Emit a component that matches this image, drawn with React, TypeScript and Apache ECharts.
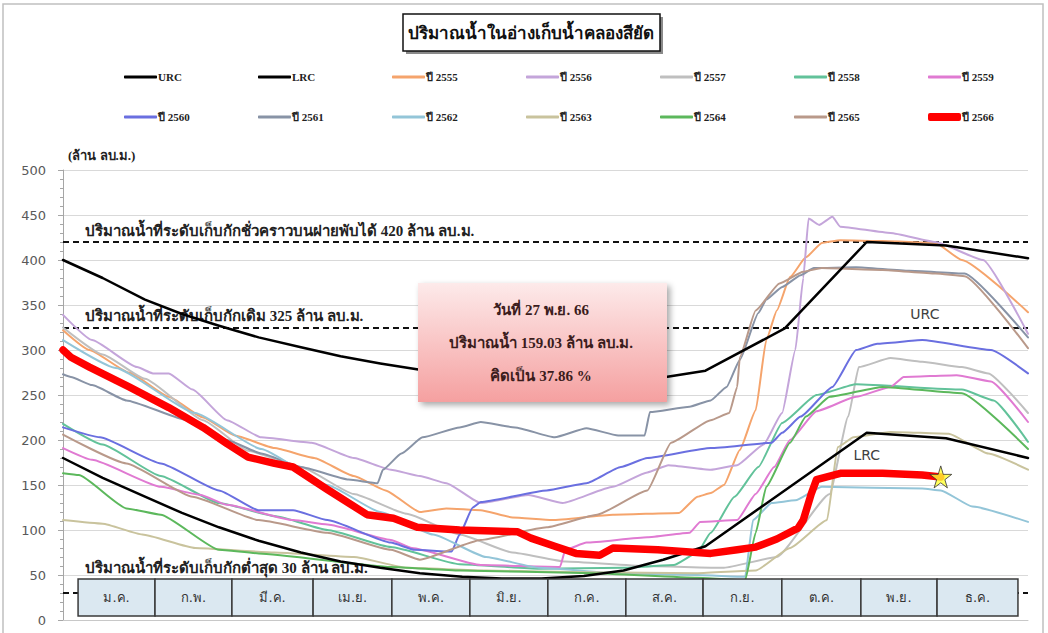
import React, { useEffect, useRef } from "react";
import * as echarts from "echarts";

// ---------- data (day of year, million m3) ----------
const urc = [[0,400],[15,380],[31,356],[45,340],[59,327],[74,314],[90,303],[105,293],[120,285],[135,278],[151,274],[181,270],[212,268],[228,270],[243,277],[273,324],[304,420],[334,416],[365,402]];
const lrc = [[0,180],[15,158],[31,137],[45,119],[59,103],[74,88],[90,75],[105,65],[120,58],[135,52],[151,48],[166,46],[181,46],[197,49],[212,55],[227,67],[243,82],[304,208],[334,202],[365,180]];
const y2555 = [[0,322],[10,300],[25,275],[40,248],[53,225],[65,205],[80,191],[95,180],[110,160],[122,144],[135,120],[145,124],[158,122],[170,114],[185,111],[208,117],[233,119],[240,137],[245,141],[250,150],[256,189],[262,233],[266,311],[270,344],[275,381],[281,403],[287,419],[294,422],[310,421],[330,419],[340,400],[365,342]];
const y2556 = [[0,339],[11,311],[28,281],[34,274],[40,274],[49,256],[62,222],[75,203],[94,197],[110,180],[124,167],[135,160],[145,152],[158,130],[176,139],[189,130],[208,148],[221,164],[229,172],[245,167],[255,172],[265,195],[272,230],[277,300],[280,380],[282,446],[286,439],[291,448],[294,437],[313,430],[330,420],[348,400],[365,318]];
const y2557 = [[0,325],[15,295],[31,268],[53,222],[70,188],[90,170],[110,140],[130,118],[150,95],[170,75],[190,65],[220,60],[250,58],[270,70],[290,140],[297,226],[301,281],[313,291],[325,287],[340,281],[350,274],[365,230]];
const y2558 = [[0,218],[15,195],[37,160],[59,130],[81,115],[100,100],[124,81],[150,62],[180,57],[212,58],[231,61],[240,75],[245,97],[254,137],[263,170],[272,219],[285,250],[300,262],[340,256],[352,244],[365,198]];
const y2559 = [[0,191],[11,178],[37,148],[52,139],[62,128],[87,111],[100,106],[124,89],[132,80],[158,61],[188,59],[190,78],[198,86],[221,92],[237,97],[241,109],[255,111],[262,140],[269,170],[275,200],[285,232],[300,248],[313,259],[318,270],[338,272],[351,265],[365,220]];
const y2560 = [[0,214],[14,203],[37,174],[59,144],[74,122],[87,122],[100,111],[124,86],[133,78],[147,76],[150,95],[155,125],[158,131],[183,144],[198,152],[211,170],[221,180],[245,191],[268,197],[272,208],[279,226],[291,259],[300,300],[308,307],[325,311],[351,300],[365,274]];
const y2561 = [[0,273],[3,270],[11,261],[24,244],[47,222],[62,200],[75,185],[90,170],[108,156],[119,152],[121,167],[128,185],[136,203],[150,214],[158,220],[171,214],[186,203],[198,213],[210,205],[220,205],[222,231],[237,237],[245,244],[251,259],[256,289],[263,341],[266,356],[272,370],[279,383],[284,391],[300,392],[320,388],[341,385],[365,314]];
const y2562 = [[0,311],[20,280],[50,230],[75,190],[100,150],[120,120],[140,95],[160,70],[180,58],[210,52],[240,50],[258,48],[261,111],[268,130],[277,133],[287,148],[325,146],[332,144],[344,126],[365,109]];
const y2563 = [[0,111],[15,107],[30,95],[50,80],[80,75],[110,70],[130,58],[160,55],[200,53],[240,52],[262,55],[275,80],[289,111],[293,192],[299,203],[313,209],[335,207],[350,185],[365,167]];
const y2564 = [[0,163],[6,161],[24,124],[37,117],[59,78],[74,74],[124,59],[150,55],[200,52],[240,47],[258,44],[262,97],[266,148],[275,197],[281,226],[290,248],[310,259],[340,252],[365,190]];
const y2565 = [[0,206],[24,174],[49,137],[74,111],[100,97],[124,78],[135,67],[158,89],[183,103],[202,117],[221,144],[230,197],[245,222],[252,230],[255,259],[256,292],[262,344],[271,374],[280,387],[287,391],[310,389],[330,385],[341,382],[365,302]];
const y2566 = [[0,300],[3,292],[10,281],[25,259],[40,236],[53,214],[62,196],[70,181],[80,174],[87,170],[100,145],[115,117],[125,113],[134,103],[150,100],[172,98],[177,91],[186,82],[194,74],[203,72],[208,80],[225,78],[245,74],[255,78],[262,81],[270,90],[278,102],[280,111],[283,140],[285,156],[294,163],[310,163],[325,161],[332,159]];
const latestPoint = [[332, 159]];

const refLevels = [420, 325, 30];
const refLabels = [
  "ปริมาณน้ำที่ระดับเก็บกักชั่วคราวบนฝายพับได้ 420 ล้าน ลบ.ม.",
  "ปริมาณน้ำที่ระดับเก็บกักเดิม 325 ล้าน ลบ.ม.",
  "ปริมาณน้ำที่ระดับเก็บกักต่ำสุด 30 ล้าน ลบ.ม.",
];
const monthLabels = ["ม.ค.","ก.พ.","มี.ค.","เม.ย.","พ.ค.","มิ.ย.","ก.ค.","ส.ค.","ก.ย.","ต.ค.","พ.ย.","ธ.ค."];
const monthBoxEdges = [5.7, 34.8, 63.9, 94.6, 124.4, 153.9, 183.4, 212.9, 242.1, 271.9, 301.8, 330.6, 361.2];
const infoLines = ["วันที่ 27 พ.ย. 66", "ปริมาณน้ำ 159.03 ล้าน ลบ.ม.", "คิดเป็น 37.86 %"];
const titleText = "ปริมาณน้ำในอ่างเก็บน้ำคลองสียัด";

const seriesDefs = [
  { name: "URC", data: urc, color: "#000000", width: 2.5 },
  { name: "LRC", data: lrc, color: "#000000", width: 2.5 },
  { name: "ปี 2555", data: y2555, color: "#f5a46c", width: 2 },
  { name: "ปี 2556", data: y2556, color: "#c4a5da", width: 2 },
  { name: "ปี 2557", data: y2557, color: "#bfbfbf", width: 2 },
  { name: "ปี 2558", data: y2558, color: "#62c29a", width: 2 },
  { name: "ปี 2559", data: y2559, color: "#e07ad2", width: 2 },
  { name: "ปี 2560", data: y2560, color: "#6a6fe0", width: 2 },
  { name: "ปี 2561", data: y2561, color: "#8893a6", width: 2 },
  { name: "ปี 2562", data: y2562, color: "#93c5d8", width: 2 },
  { name: "ปี 2563", data: y2563, color: "#c9c39d", width: 2 },
  { name: "ปี 2564", data: y2564, color: "#5cb85c", width: 2 },
  { name: "ปี 2565", data: y2565, color: "#b9998a", width: 2 },
  { name: "ปี 2566", data: y2566, color: "#ff0000", width: 7.5 },
];

const SERIF = "'Liberation Serif', 'Times New Roman', serif";
const SANS = "'DejaVu Sans', Verdana, sans-serif";

export default function App() {
  const ref = useRef<HTMLDivElement>(null);
  useEffect(() => {
    if (!ref.current) return;
    const chart = echarts.init(ref.current, undefined, { renderer: "svg" });
    const legendCols = [124, 258, 392, 526, 660, 794, 928];
    const legends = seriesDefs.map((s, i) => {
      const thick = s.name === "ปี 2566";
      return {
        data: [{ name: s.name, icon: "roundRect" }],
        left: legendCols[i % 7],
        top: i < 7 ? 70 : 110,
        padding: 0,
        itemWidth: 33,
        itemHeight: thick ? 8 : 3,
        itemGap: 0,
        selectedMode: false,
        textStyle: { fontFamily: SERIF, fontWeight: "bold", fontSize: 11, color: "#222", padding: [0, 0, 0, -4], lineHeight: 14 },
      };
    });

    const series: any[] = seriesDefs.map((s) => {
      const rule = s.name === "URC" || s.name === "LRC";
      const current = s.name === "ปี 2566";
      return {
        name: s.name,
        type: "line",
        data: s.data,
        symbol: "none",
        showSymbol: false,
        silent: true,
        smooth: rule || current ? false : 0.15,
        smoothMonotone: "x",
        z: current ? 6 : rule ? 4 : 3,
        lineStyle: { color: s.color, width: s.width, cap: "round", join: "round" },
        itemStyle: { color: s.color },
      };
    });

    // reference levels
    series[0].markLine = {
      silent: true,
      symbol: ["none", "none"],
      z: 2,
      lineStyle: { type: [6, 4], color: "#111", width: 2 },
      data: refLevels.map((v, i) => ({
        yAxis: v,
        label: {
          show: true,
          formatter: refLabels[i],
          position: "insideStartTop",
          distance: [22, i === 2 ? 18 : 4],
          fontFamily: SERIF,
          fontWeight: "bold",
          fontSize: 15,
          color: "#222",
        },
      })),
    };
    const textMark = (coord: number[], txt: string) => ({
      silent: true,
      symbol: "circle",
      symbolSize: 1,
      itemStyle: { color: "rgba(0,0,0,0)" },
      label: { show: true, position: "inside", color: "#404040", fontSize: 14, fontFamily: SANS },
      data: [{ coord, label: { formatter: txt } }],
    });
    series[0].markPoint = textMark([326, 340], "URC");
    series[1].markPoint = textMark([304, 183], "LRC");
    // month boxes
    series[1].markArea = {
      silent: true,
      z: 10,
      itemStyle: { color: "#dbe8f1", borderColor: "#3a3a3a", borderWidth: 1.5, opacity: 1 },
      label: { show: true, position: "inside", color: "#333", fontSize: 13, fontFamily: SANS },
      data: monthLabels.map((m, i) => [
        { name: m, xAxis: monthBoxEdges[i], yAxis: 4.5 },
        { xAxis: monthBoxEdges[i + 1], yAxis: 45.5 },
      ]),
    };
    series.push({
      name: "latest",
      type: "scatter",
      data: latestPoint,
      symbol: "path://M50,0 L61,35 L98,35 L68,57 L79,91 L50,70 L21,91 L32,57 L2,35 L39,35 Z",
      symbolSize: 22,
      z: 20,
      silent: true,
      itemStyle: { color: "#ffff33", borderColor: "#333", borderWidth: 1 },
    });

    chart.setOption({
      animation: false,
      backgroundColor: "#ffffff",
      legend: legends,
      grid: { left: 63, right: 20, top: 170, bottom: 13 },
      xAxis: {
        type: "value",
        min: 0,
        max: 365,
        axisLine: { show: true, lineStyle: { color: "#c8c8c8" } },
        axisTick: { show: false },
        axisLabel: { show: false },
        splitLine: { show: false },
      },
      yAxis: {
        type: "value",
        min: 0,
        max: 500,
        interval: 50,
        axisLine: { show: true, lineStyle: { color: "#a6a6a6" } },
        axisTick: { show: true, length: 5, lineStyle: { color: "#a6a6a6" } },
        minorTick: { show: true, splitNumber: 5, length: 3, lineStyle: { color: "#a6a6a6" } },
        axisLabel: { color: "#595959", fontSize: 13, fontFamily: SANS, margin: 17 },
        splitLine: { show: true, lineStyle: { color: "#d9d9d9", width: 1 } },
      },
      graphic: [
        { type: "rect", z: 0, silent: true, shape: { x: 3, y: 4, width: 1040, height: 640 }, style: { fill: "none", stroke: "#c0c0c0", lineWidth: 1.5 } },
        { type: "rect", z: 100, silent: true, shape: { x: 406, y: 17, width: 257, height: 37 }, style: { fill: "#8a8a8a" } },
        { type: "rect", z: 101, silent: true, shape: { x: 403, y: 14, width: 257, height: 37 }, style: { fill: "#ffffff", stroke: "#111", lineWidth: 1.5 } },
        { type: "text", z: 102, silent: true, x: 531, y: 33, style: { text: titleText, fill: "#111", font: `bold 17px ${SERIF}`, align: "center", verticalAlign: "middle" } },
        { type: "text", z: 102, silent: true, x: 68, y: 155, style: { text: "(ล้าน ลบ.ม.)", fill: "#222", font: `bold 13px ${SERIF}`, align: "left", verticalAlign: "middle" } },
        {
          type: "rect", z: 100, silent: true,
          shape: { x: 418, y: 283, width: 249, height: 119 },
          style: {
            fill: new echarts.graphic.LinearGradient(0, 0, 0, 1, [
              { offset: 0, color: "#fdeaea" },
              { offset: 1, color: "#f5a0a0" },
            ]),
            shadowBlur: 6, shadowColor: "rgba(0,0,0,0.35)", shadowOffsetX: 3, shadowOffsetY: 3,
          },
        },
        ...infoLines.map((t, i) => ({
          type: "text", z: 102, silent: true, x: 541, y: 310 + i * 33,
          style: { text: t, fill: "#3b1c1c", font: `bold 15px ${SERIF}`, align: "center", verticalAlign: "middle" },
        })),
      ],
      series,
    });
    return () => chart.dispose();
  }, []);
  return <div ref={ref} style={{ position: "fixed", left: 0, top: 0, width: 1048, height: 633 }} />;
}
